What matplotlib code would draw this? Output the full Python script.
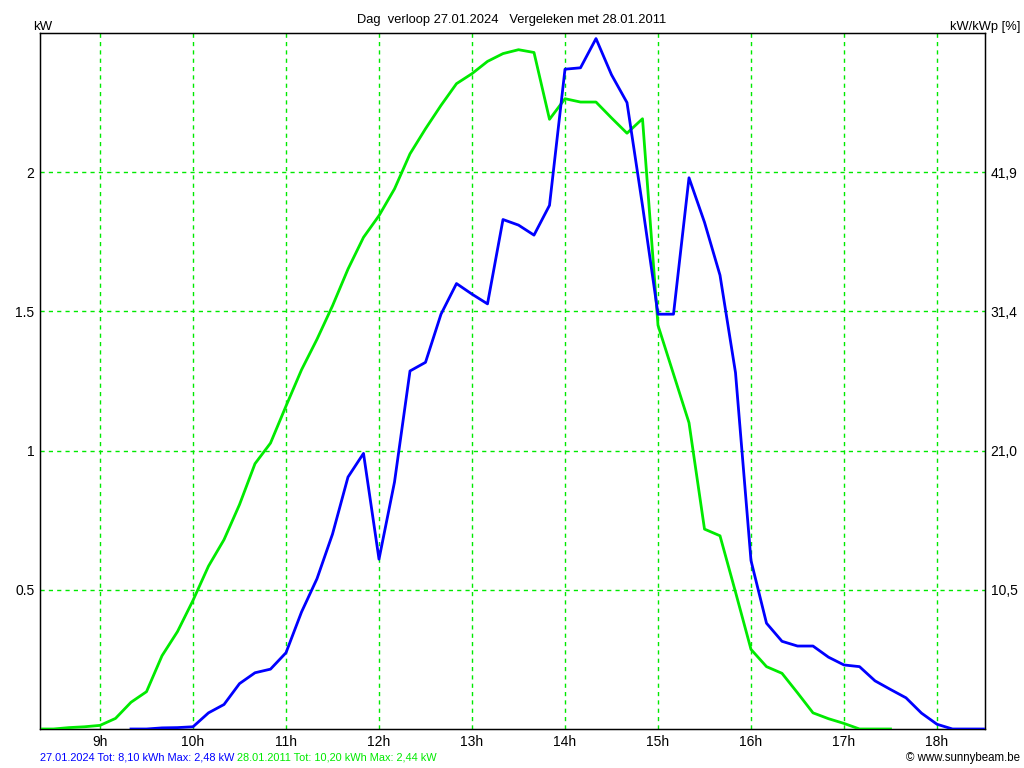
import matplotlib
matplotlib.use("Agg")
import matplotlib.pyplot as plt

# Tijden en vermogens (kW), 10-minuten waarden
blauw_tijden = ["9:20", "9:30", "9:40", "9:50", "10:00", "10:10", "10:20", "10:30", "10:40", "10:50",
                "11:00", "11:10", "11:20", "11:30", "11:40", "11:50", "12:00", "12:10", "12:20", "12:30",
                "12:40", "12:50", "13:00", "13:10", "13:20", "13:30", "13:40", "13:50", "14:00", "14:10",
                "14:20", "14:30", "14:40", "14:50", "15:00", "15:10", "15:20", "15:30", "15:40", "15:50",
                "16:00", "16:10", "16:20", "16:30", "16:40", "16:50", "17:00", "17:10", "17:20", "17:30",
                "17:40", "17:50", "18:00", "18:10", "18:20", "18:30"]
blauw_kw = [0.0, 0.0, 0.004, 0.005, 0.008, 0.058, 0.088, 0.163, 0.202, 0.215,
            0.274, 0.42, 0.54, 0.70, 0.905, 0.99, 0.61, 0.887, 1.286, 1.317,
            1.49, 1.60, 1.562, 1.527, 1.83, 1.81, 1.774, 1.881, 2.37, 2.375,
            2.48, 2.35, 2.25, 1.88, 1.49, 1.49, 1.98, 1.82, 1.63, 1.28,
            0.605, 0.38, 0.315, 0.298, 0.298, 0.258, 0.23, 0.224, 0.173, 0.142,
            0.112, 0.057, 0.017, 0.0, 0.0, 0.0]

groen_tijden = ["8:20", "8:30", "8:40", "8:50", "9:00", "9:10", "9:20", "9:30", "9:40", "9:50",
                "10:00", "10:10", "10:20", "10:30", "10:40", "10:50", "11:00", "11:10", "11:20", "11:30",
                "11:40", "11:50", "12:00", "12:10", "12:20", "12:30", "12:40", "12:50", "13:00", "13:10",
                "13:20", "13:30", "13:40", "13:50", "14:00", "14:10", "14:20", "14:30", "14:40", "14:50",
                "15:00", "15:10", "15:20", "15:30", "15:40", "15:50", "16:00", "16:10", "16:20", "16:30",
                "16:40", "16:50", "17:00", "17:10", "17:20", "17:30"]
groen_kw = [0.0, 0.0, 0.005, 0.008, 0.013, 0.038, 0.096, 0.134, 0.263, 0.35,
            0.462, 0.585, 0.68, 0.806, 0.953, 1.027, 1.16, 1.29, 1.40, 1.52,
            1.652, 1.766, 1.844, 1.94, 2.066, 2.156, 2.24, 2.318, 2.354, 2.398,
            2.426, 2.44, 2.43, 2.19, 2.264, 2.252, 2.252, 2.195, 2.14, 2.192,
            1.45, 1.275, 1.10, 0.718, 0.694, 0.492, 0.286, 0.224, 0.2, 0.13,
            0.058, 0.037, 0.02, 0.0, 0.0, 0.0]

uren = [9, 10, 11, 12, 13, 14, 15, 16, 17, 18]
uur_labels = ["9h", "10h", "11h", "12h", "13h", "14h", "15h", "16h", "17h", "18h"]
kw_ticks = [0.5, 1, 1.5, 2]
kw_labels = ["0.5", "1", "1.5", "2"]
pct_labels = ["10,5", "21,0", "31,4", "41,9"]

titel = "Dag  verloop 27.01.2024   Vergeleken met 28.01.2011"
info_blauw = "27.01.2024 Tot: 8,10 kWh Max: 2,48 kW"
info_groen = " 28.01.2011 Tot: 10,20 kWh Max: 2,44 kW"

BLAUW = "#0000ff"
GROEN = "#00ea00"


def naar_uur(t):
    h, m = t.split(":")
    return int(h) + int(m) / 60


plt.rcParams['font.family'] = ['Liberation Sans Narrow', 'Liberation Sans', 'DejaVu Sans']

fig = plt.figure(figsize=(10.24, 7.68), dpi=100)
ax = fig.add_axes([40 / 1024, 39 / 768, 945 / 1024, 696 / 768])

ax.plot([naar_uur(t) for t in groen_tijden], groen_kw, color=GROEN, linewidth=2, zorder=3)
ax.plot([naar_uur(t) for t in blauw_tijden], blauw_kw, color=BLAUW, linewidth=2, zorder=4)

# 93 px per uur, 9h op x=100
ax.set_xlim(9 - 60 / 93, 18 + 48 / 93)
ax.set_ylim(0, 2.5)
ax.set_xticks(uren)
ax.set_xticklabels(uur_labels)
ax.set_yticks(kw_ticks)
ax.set_yticklabels(kw_labels)
ax.tick_params(length=0, labelsize=10, pad=4)
ax.grid(True, color=GROEN, linestyle=(0, (3, 3)), linewidth=1)
for s in ax.spines.values():
    s.set_linewidth(1)
    s.set_color("black")

ax2 = ax.twinx()
ax2.set_ylim(0, 2.5)
ax2.set_yticks(kw_ticks)
ax2.set_yticklabels(pct_labels)
ax2.tick_params(length=0, labelsize=10, pad=4)

fig.text(512 / 1024, 1 - 20 / 768, titel, ha="center", va="center", fontsize=9.3)
fig.text(33 / 1024, 1 - 27 / 768, "kW", ha="left", va="center", fontsize=9.5)
fig.text(1020 / 1024, 1 - 27 / 768, "kW/kWp [%]", ha="right", va="center", fontsize=9.3)

t1 = fig.text(40 / 1024, 1 - 757 / 768, info_blauw, ha="left", va="center", fontsize=7.9, color=BLAUW)
fig.canvas.draw()
bb = t1.get_window_extent(fig.canvas.get_renderer())
fig.text(bb.x1 / fig.bbox.width, 1 - 757 / 768, info_groen, ha="left", va="center", fontsize=7.9, color=GROEN)
fig.text(1020 / 1024, 1 - 758 / 768, "© www.sunnybeam.be", ha="right", va="center", fontsize=8.3)

fig.savefig("out.png", dpi=100, facecolor="white")
